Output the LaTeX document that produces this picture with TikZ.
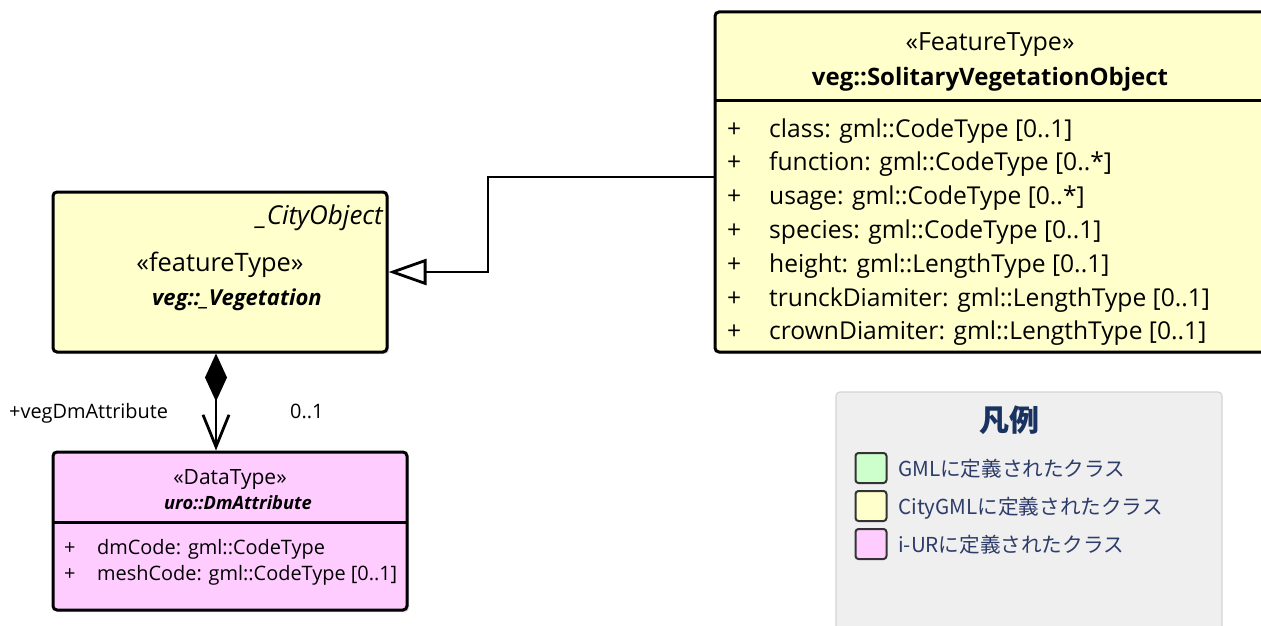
\documentclass[tikz,border=0pt]{standalone}
\usepackage{fontspec}
\setmainfont{Open Sans}
\newfontfamily\jpfont{Noto Sans CJK JP}
\usetikzlibrary{arrows.meta,shapes.misc,shadows}
\definecolor{cgml}{HTML}{FFFFCC}
\definecolor{iur}{HTML}{FFCCFF}
\definecolor{gmlc}{HTML}{CCFFCC}
\definecolor{legbg}{HTML}{EFEFEF}
\definecolor{legbd}{HTML}{D4D4D4}
\definecolor{legtx}{RGB}{45,60,105}
\definecolor{legti}{RGB}{25,50,95}
\tikzset{
  umlbox/.style={draw=black, line width=3pt, rounded corners=4pt, inner sep=0pt,
    drop shadow={shadow xshift=2pt, shadow yshift=-2pt, fill=black!25}},
  sep/.style={line width=3pt},
  attr/.style={anchor=base west, inner sep=0pt, font=\fontsize{24.6}{28}\selectfont},
  sattr/.style={anchor=base west, inner sep=0pt, font=\fontsize{19.9}{24}\selectfont},
  conn/.style={line width=2.8pt},
  gen/.style={conn, -{Triangle[open, length=38pt, width=26pt, fill=white]}},
  comp/.style={conn, {Diamond[length=48pt, width=22pt]}-{Straight Barb[length=32pt, width=26pt]}},
  swatch/.style={draw=black!80, line width=2pt, rounded corners=3pt, minimum width=31pt, minimum height=30pt, inner sep=0pt},
  legtext/.style={anchor=base west, inner sep=0pt, text=legtx, font=\jpfont\fontsize{20.6}{24}\selectfont},
}
\begin{document}
\begin{tikzpicture}[x=1pt, y=-1pt]
\useasboundingbox (0,0) rectangle (1261,626);
\clip (0,0) rectangle (1261,626);

% SolitaryVegetationObject
\node[umlbox, fill=cgml, minimum width=570pt, minimum height=340pt] (svo) at (1000,182) {};
\draw[sep] (715,100) -- (1275,100);
\node[font=\fontsize{25}{28}\selectfont, inner sep=0pt, anchor=base] (svost) at (990,51) {«FeatureType»};
\node[font=\bfseries\fontsize{24}{28}\selectfont, inner sep=0pt, anchor=base] (svonm) at (990,85) {veg::SolitaryVegetationObject};
\foreach \t [count=\i] in {class: gml::CodeType [0..1],
  function: gml::CodeType [0..*],
  usage: gml::CodeType [0..*],
  species: gml::CodeType [0..1],
  height: gml::LengthType [0..1],
  trunckDiamiter: gml::LengthType [0..1],
  crownDiamiter: gml::LengthType [0..1]} {
  \node[attr] (sp\i) at (727,{137+33.8*(\i-1)}) {+};
  \node[attr] (sa\i) at (769,{137+33.8*(\i-1)}) {\t};
}

% _Vegetation
\node[umlbox, fill=cgml, minimum width=334pt, minimum height=160pt] (veg) at (220,272) {};
\node[font=\itshape\fontsize{26}{30}\selectfont, inner sep=0pt, anchor=base east] (vegsup) at (383,224) {\_CityObject};
\node[font=\fontsize{25.4}{28}\selectfont, inner sep=0pt, anchor=base] (vegst) at (220,271) {«featureType»};
\node[font=\bfseries\itshape\fontsize{22}{26}\selectfont, inner sep=0pt, anchor=base] (vegnm) at (237,305) {veg::\_Vegetation};

% DmAttribute
\node[umlbox, fill=iur, minimum width=354pt, minimum height=158pt] (dm) at (230,531) {};
\draw[sep] (53,522) -- (407,522);
\node[font=\fontsize{21}{24}\selectfont, inner sep=0pt, anchor=base] (dmst) at (230,484) {«DataType»};
\node[font=\bfseries\itshape\fontsize{18.3}{22}\selectfont, inner sep=0pt, anchor=base] (dmnm) at (238,509) {uro::DmAttribute};
\node[sattr] (dp1) at (64,554) {+};
\node[sattr] (da1) at (97,554) {dmCode: gml::CodeType};
\node[sattr] (dp2) at (64,580) {+};
\node[sattr] (da2) at (97,580) {meshCode: gml::CodeType [0..1]};

% generalization
\coordinate (gs) at (715,177);
\draw[gen] (gs) -- (488,177) |- (veg.east);

% composition
\coordinate (cx) at (216,0);
\draw[comp] (veg.south -| cx) -- (dm.north -| cx);
\node[sattr] (rl) at (9,418) {+vegDmAttribute};
\node[sattr] (ml) at (290,418) {0..1};

% legend
\node[draw=legbd, line width=1.2pt, fill=legbg, rounded corners=4pt, minimum width=386pt, minimum height=260pt, inner sep=0pt] (leg) at (1029,522) {};
\node[font=\jpfont\bfseries\fontsize{30}{34}\selectfont, text=legti, inner sep=0pt] (legt) at (1009,420) {凡例};
\node[swatch, fill=gmlc] (s1) at (871,468) {};
\node[swatch, fill=cgml] (s2) at (871,506) {};
\node[swatch, fill=iur] (s3) at (871,544) {};
\node[legtext] (l1) at (898,476) {GMLに定義されたクラス};
\node[legtext] (l2) at (898,514) {CityGMLに定義されたクラス};
\node[legtext] (l3) at (898,552) {i-URに定義されたクラス};
\end{tikzpicture}
\end{document}
